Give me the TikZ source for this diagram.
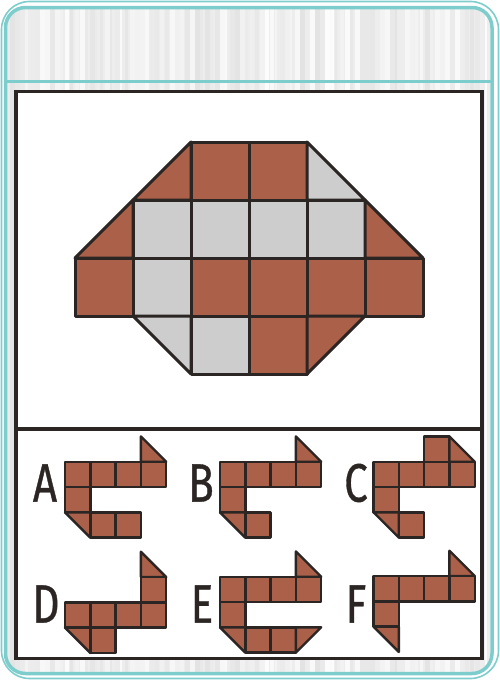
\documentclass[tikz,border=0pt]{standalone}
\usepackage{fontspec}
\newfontfamily\labfont{Fira Sans}[FakeBold=0.8]
\definecolor{teal1}{RGB}{126,205,205}
\definecolor{brn}{RGB}{171,97,73}
\definecolor{gry}{RGB}{204,205,204}
\definecolor{ink}{RGB}{43,37,36}
\newcommand\sqr[3]{\path[#1] (#2,#3) rectangle ++(1,1);}
\begin{document}
\begin{tikzpicture}[x=1pt,y=-1pt,
  bc/.style={fill=brn,draw=ink,line width=3pt,line join=round},
  gc/.style={fill=gry,draw=ink,line width=3pt,line join=round},
  oc/.style={fill=brn,draw=ink,line width=2.4pt,line join=round},
  lab/.style={font=\labfont\fontsize{54}{54}\selectfont, text=ink, inner sep=0pt, xscale=0.78}
]
\useasboundingbox (0,0) rectangle (500,680);
\fill[white] (0,0) rectangle (500,680);
% streaked background
\begin{scope}
\clip[rounded corners=20pt] (5.5,7.5) rectangle (492,673.5);
\fill[white!93!black] (0,0) rectangle (500,680);
\pgfmathsetseed{11}
\foreach \i in {0,...,99} {
  \pgfmathsetmacro\g{89+10*rnd}
  \pgfmathsetmacro\w{2+7*rnd}
  \fill[white!\g!black] (\i*5,0) rectangle ++(\w,680);
}
\end{scope}
\draw[teal1,line width=3.5pt,rounded corners=20pt] (5.5,7.5) rectangle (492,673.5);
\draw[teal1,line width=1.6pt,rounded corners=28pt] (1.5,1.5) rectangle (498.5,678.5);
\draw[teal1,line width=3pt] (5.5,81.5) -- (492,81.5);
% main panel
\draw[ink,fill=white,line width=3.5pt] (16,91.5) rectangle (482,658.5);
\draw[ink,line width=4pt] (16,428.5) -- (482,428.5);
% puzzle
\begin{scope}[xshift=75pt,yshift=-142pt,x=58pt,y=-58pt]
\path[bc] (1,1) -- (2,0) -- (2,1) -- cycle;
\sqr{bc}{2}{0}\sqr{bc}{3}{0}
\path[gc] (4,0) -- (5,1) -- (4,1) -- cycle;
\path[bc] (0,2) -- (1,1) -- (1,2) -- cycle;
\sqr{gc}{1}{1}\sqr{gc}{2}{1}\sqr{gc}{3}{1}\sqr{gc}{4}{1}
\path[bc] (5,1) -- (6,2) -- (5,2) -- cycle;
\sqr{bc}{0}{2}\sqr{gc}{1}{2}\sqr{bc}{2}{2}\sqr{bc}{3}{2}\sqr{bc}{4}{2}\sqr{bc}{5}{2}
\path[gc] (1,3) -- (2,3) -- (2,4) -- cycle;
\sqr{gc}{2}{3}\sqr{bc}{3}{3}
\path[bc] (4,3) -- (5,3) -- (4,4) -- cycle;
\end{scope}
% option A
\begin{scope}[xshift=65pt,yshift=-461.7pt,x=25.3pt,y=-25.3pt]
\path[oc] (3,-1) -- (3,0) -- (4,0) -- cycle;
\sqr{oc}{0}{0}\sqr{oc}{1}{0}\sqr{oc}{2}{0}\sqr{oc}{3}{0}
\sqr{oc}{0}{1}
\path[oc] (0,2) -- (1,2) -- (1,3) -- cycle;
\sqr{oc}{1}{2}\sqr{oc}{2}{2}
\end{scope}
% option B
\begin{scope}[xshift=220pt,yshift=-461.7pt,x=25.3pt,y=-25.3pt]
\path[oc] (3,-1) -- (3,0) -- (4,0) -- cycle;
\sqr{oc}{0}{0}\sqr{oc}{1}{0}\sqr{oc}{2}{0}\sqr{oc}{3}{0}
\sqr{oc}{0}{1}
\path[oc] (0,2) -- (1,2) -- (1,3) -- cycle;
\sqr{oc}{1}{2}
\end{scope}
% option C
\begin{scope}[xshift=373.5pt,yshift=-461.7pt,x=25.3pt,y=-25.3pt]
\sqr{oc}{2}{-1}
\path[oc] (3,-1) -- (3,0) -- (4,0) -- cycle;
\sqr{oc}{0}{0}\sqr{oc}{1}{0}\sqr{oc}{2}{0}\sqr{oc}{3}{0}
\sqr{oc}{0}{1}
\path[oc] (0,2) -- (1,2) -- (1,3) -- cycle;
\sqr{oc}{1}{2}
\end{scope}
% option D
\begin{scope}[xshift=65pt,yshift=-602.3pt,x=25.3pt,y=-25.3pt]
\path[oc] (3,-2) -- (3,-1) -- (4,-1) -- cycle;
\sqr{oc}{3}{-1}
\sqr{oc}{0}{0}\sqr{oc}{1}{0}\sqr{oc}{2}{0}\sqr{oc}{3}{0}
\path[oc] (0,1) -- (1,1) -- (1,2) -- cycle;
\sqr{oc}{1}{1}
\end{scope}
% option E
\begin{scope}[xshift=220pt,yshift=-576.7pt,x=25.3pt,y=-25.3pt]
\path[oc] (3,-1) -- (3,0) -- (4,0) -- cycle;
\sqr{oc}{0}{0}\sqr{oc}{1}{0}\sqr{oc}{2}{0}\sqr{oc}{3}{0}
\sqr{oc}{0}{1}
\path[oc] (0,2) -- (1,2) -- (1,3) -- cycle;
\sqr{oc}{1}{2}\sqr{oc}{2}{2}
\path[oc] (3,2) -- (4,2) -- (3,3) -- cycle;
\end{scope}
% option F
\begin{scope}[xshift=373.5pt,yshift=-576pt,x=25.3pt,y=-25.3pt]
\path[oc] (3,-1) -- (3,0) -- (4,0) -- cycle;
\sqr{oc}{0}{0}\sqr{oc}{1}{0}\sqr{oc}{2}{0}\sqr{oc}{3}{0}
\sqr{oc}{0}{1}
\path[oc] (0,2) -- (1,2) -- (1,3) -- cycle;
\end{scope}
% labels
\node[lab] (la) at (45,483) {A};
\node[lab] (lb) at (201,483) {B};
\node[lab] (lc) at (356,483) {C};
\node[lab] (ld) at (46,604) {D};
\node[lab] (le) at (202,604) {E};
\node[lab] (lf) at (356,604) {F};
\end{tikzpicture}
\end{document}
